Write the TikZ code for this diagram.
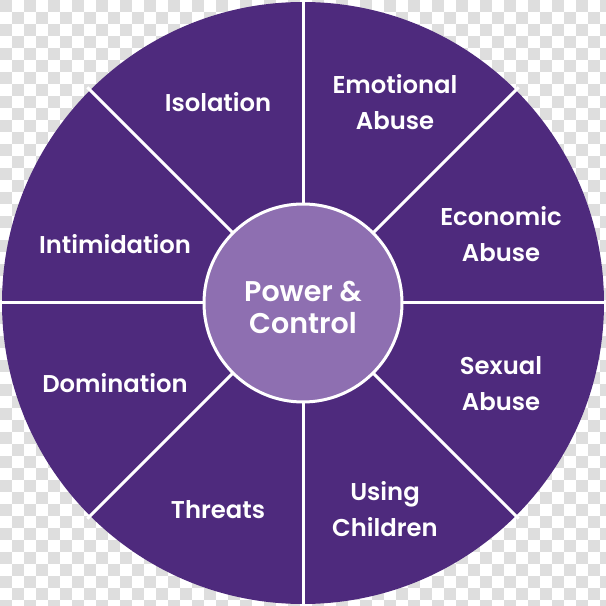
\documentclass[tikz,border=0pt]{standalone}
\usepackage{fontspec}
\setmainfont{Poppins}[BoldFont={Poppins SemiBold}]
\definecolor{WheelPurple}{HTML}{4E2A7D}
\definecolor{HubPurple}{HTML}{8E6FB1}
\definecolor{CheckGray}{HTML}{DEDEDE}

\begin{document}
\begin{tikzpicture}[
    x=1pt, y=1pt,
    divider/.style={draw=white, line width=3pt},
    hub/.style={
        circle,
        draw=white,
        line width=3pt,
        fill=HubPurple,
        minimum size=198pt,
        inner sep=0pt
    },
    hub text/.style={text=white, align=center,
                     font=\bfseries\fontsize{28.5}{32}\selectfont},
    tactic/.style={text=white, align=center,
                   font=\bfseries\fontsize{24.3}{36}\selectfont}
]
    \useasboundingbox (0,0) rectangle (606,606);
    \clip (0,0) rectangle (606,606);

    % transparent background checkerboard, 12pt squares
    \foreach \j in {0,...,50} {
        \foreach \i in {0,...,50} {
            \pgfmathtruncatemacro{\odd}{mod(\i+\j,2)}
            \ifnum\odd=0
                \fill[CheckGray] (12*\i,606-12*\j) rectangle (12*\i+12,594-12*\j);
            \fi
        }
    }

    % the wheel and its eight spokes
    \coordinate (c) at (303,303);
    \fill[WheelPurple] (c) circle (301);
    \foreach \a in {0,45,...,315} {
        \draw[divider] (c) -- ++(\a:305);
    }
    \node[hub] (hub) at (c) {};
    \node[hub text] (power) at (303,298.5) {Power \&\\Control};

    % tactics, clockwise from the top
    \node[tactic] (emotional) at (395,504) {Emotional\\Abuse};
    \node[tactic] (economic) at (501,372) {Economic\\Abuse};
    \node[tactic] (sexual) at (501,222) {Sexual\\Abuse};
    \node[tactic] (children) at (385,97) {Using\\Children};
    \node[tactic] (threats) at (218,96) {Threats};
    \node[tactic] (domination) at (115,223) {Domination};
    \node[tactic] (intimidation) at (115,362) {Intimidation};
    \node[tactic] (isolation) at (218,504) {Isolation};
\end{tikzpicture}
\end{document}
